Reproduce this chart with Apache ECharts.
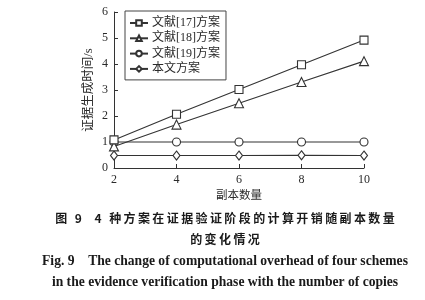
<!DOCTYPE html>
<html>
<head>
<meta charset="utf-8">
<style>
  html, body { margin: 0; padding: 0; background: #fff; }
  #chart { width: 425px; height: 300px; }
</style>
<script src="https://cdn.jsdelivr.net/npm/echarts@6/dist/echarts.min.js"></script>
</head>
<body>
<div id="chart"></div>
<script>
// Number of copies on the x axis
const copies = [2, 4, 6, 8, 10];

// Proof generation time (s) per scheme
const scheme17 = [1.08, 2.07, 3.02, 3.97, 4.92];
const scheme18 = [0.83, 1.67, 2.49, 3.31, 4.11];
const scheme19 = [1.0, 1.0, 1.0, 1.0, 1.0];
const schemeOurs = [0.48, 0.48, 0.48, 0.49, 0.48];

const seriesNames = ['文献[17]方案', '文献[18]方案', '文献[19]方案', '本文方案'];
const seriesSymbols = ['rect', 'triangle', 'circle', 'diamond'];

const yTicks = [0, 1, 2, 3, 4, 5, 6];

const xAxisName = '副本数量';
const yAxisName = '证据生成时间/s';

const captionCn1 = '图 9  4 种方案在证据验证阶段的计算开销随副本数量';
const captionCn2 = '的变化情况';
const captionEn1 = 'Fig. 9    The change of computational overhead of four schemes';
const captionEn2 = 'in the evidence verification phase with the number of copies';

const serif = '"Liberation Serif", "Noto Sans CJK SC", serif';
const ink = '#2a2a2a';

// spread CJK caption glyphs apart with thin spaces
function spaced(s) {
  return Array.from(s).join('\u2009');
}

function pairs(vals) {
  return copies.map((c, i) => [c, vals[i]]);
}

const allValues = [scheme17, scheme18, scheme19, schemeOurs];

function caption(text, y, font) {
  return {
    type: 'text', x: 225, y: y,
    style: { text: text, font: font, fill: '#1a1a1a', textAlign: 'center', textVerticalAlign: 'middle' }
  };
}

const chart = echarts.init(document.getElementById('chart'), null, { renderer: 'canvas' });

chart.setOption({
  animation: false,
  backgroundColor: '#fff',
  grid: { left: 114, right: 61, top: 12, bottom: 132, containLabel: false },
  legend: {
    orient: 'vertical',
    left: 125,
    top: 11,
    padding: [6, 6, 5, 4],
    itemGap: 3.3,
    itemWidth: 18,
    itemHeight: 7,
    borderColor: '#444',
    borderWidth: 1,
    backgroundColor: '#fff',
    textStyle: { fontFamily: serif, fontSize: 12, color: ink, padding: [0, 0, 0, -1] },
    data: seriesNames
  },
  xAxis: {
    type: 'value',
    min: 2,
    max: 10,
    interval: 2,
    name: xAxisName,
    nameLocation: 'middle',
    nameGap: 22,
    nameMoveOverlap: false,
    nameTextStyle: { fontFamily: serif, fontSize: 11.5, color: ink },
    axisLine: { lineStyle: { color: '#333', width: 1 } },
    axisTick: { inside: true, length: 4, lineStyle: { color: '#333' } },
    axisLabel: { fontFamily: serif, fontSize: 12, color: ink, margin: 6 },
    splitLine: { show: false }
  },
  yAxis: {
    type: 'value',
    min: yTicks[0],
    max: yTicks[yTicks.length - 1],
    interval: 1,
    name: yAxisName,
    nameLocation: 'middle',
    nameGap: 19,
    nameMoveOverlap: false,
    nameTextStyle: { fontFamily: serif, fontSize: 12.5, color: ink },
    axisLine: { show: true, lineStyle: { color: '#333', width: 1 } },
    axisTick: { show: true, inside: true, length: 4, lineStyle: { color: '#333' } },
    axisLabel: { fontFamily: serif, fontSize: 12, color: ink, margin: 6 },
    splitLine: { show: false }
  },
  series: seriesNames.map((name, i) => ({
    name: name,
    type: 'line',
    data: pairs(allValues[i]),
    symbol: seriesSymbols[i],
    symbolSize: seriesSymbols[i] === 'triangle' ? 9 : (seriesSymbols[i] === 'diamond' ? [7, 9] : 8),
    showAllSymbol: true,
    lineStyle: { color: '#333', width: 1.1 },
    itemStyle: { color: '#fff', borderColor: '#333', borderWidth: 1.1 },
    z: 2 + (3 - i)
  })),
  graphic: [
    caption(spaced(captionCn1), 218, 'bold 12px "Noto Sans CJK SC"'),
    caption(spaced(captionCn2), 239.5, 'bold 12px "Noto Sans CJK SC"'),
    caption(captionEn1, 261.5, 'bold 13.6px "Liberation Serif"'),
    caption(captionEn2, 282, 'bold 13.6px "Liberation Serif"')
  ]
});
</script>
</body>
</html>
